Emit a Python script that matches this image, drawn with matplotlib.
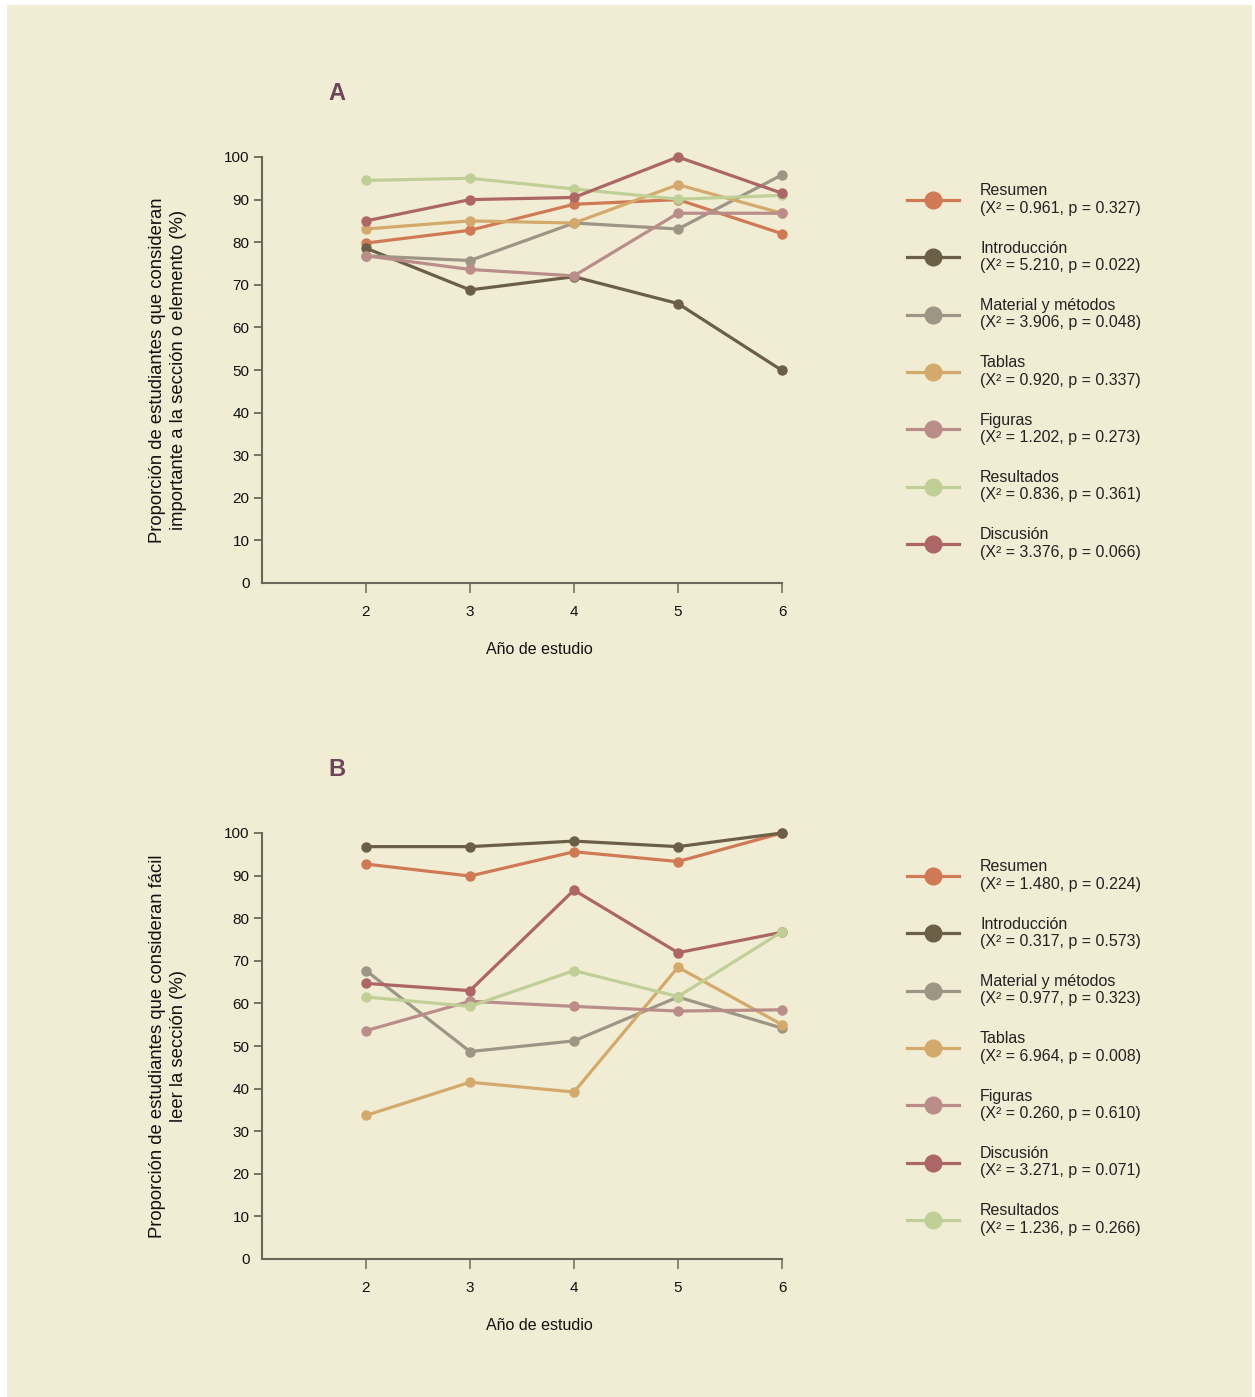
import matplotlib
matplotlib.use("Agg")
import matplotlib.pyplot as plt
from matplotlib.lines import Line2D
from matplotlib.patches import Rectangle

plt.rcParams['font.family'] = ['Liberation Sans', 'DejaVu Sans']

years = [2, 3, 4, 5, 6]

# Panel A: importance
a_resumen = [79.8, 82.8, 88.9, 90.0, 82.0]
a_intro = [78.6, 68.8, 71.9, 65.6, 49.9]
a_material = [76.8, 75.7, 84.5, 83.1, 95.8]
a_tablas = [83.1, 85.0, 84.5, 93.5, 86.8]
a_figuras = [76.8, 73.6, 72.1, 86.8, 86.8]
a_resultados = [94.5, 95.0, 92.5, 90.1, 91.0]
a_discusion = [85.0, 90.0, 90.5, 100.0, 91.5]
a_stats = {
    'Resumen': '(X² = 0.961, p = 0.327)',
    'Introducción': '(X² = 5.210, p = 0.022)',
    'Material y métodos': '(X² = 3.906, p = 0.048)',
    'Tablas': '(X² = 0.920, p = 0.337)',
    'Figuras': '(X² = 1.202, p = 0.273)',
    'Resultados': '(X² = 0.836, p = 0.361)',
    'Discusión': '(X² = 3.376, p = 0.066)',
}
a_order = ['Resumen', 'Introducción', 'Material y métodos', 'Tablas', 'Figuras', 'Resultados', 'Discusión']

# Panel B: ease of reading
b_resumen = [92.7, 89.9, 95.6, 93.3, 100.0]
b_intro = [96.8, 96.8, 98.1, 96.8, 100.0]
b_material = [67.7, 48.7, 51.2, 61.5, 54.2]
b_tablas = [33.7, 41.5, 39.2, 68.5, 55.0]
b_figuras = [53.6, 60.5, 59.3, 58.2, 58.5]
b_discusion = [64.7, 63.0, 86.6, 71.9, 76.7]
b_resultados = [61.5, 59.3, 67.7, 61.6, 76.8]
b_stats = {
    'Resumen': '(X² = 1.480, p = 0.224)',
    'Introducción': '(X² = 0.317, p = 0.573)',
    'Material y métodos': '(X² = 0.977, p = 0.323)',
    'Tablas': '(X² = 6.964, p = 0.008)',
    'Figuras': '(X² = 0.260, p = 0.610)',
    'Discusión': '(X² = 3.271, p = 0.071)',
    'Resultados': '(X² = 1.236, p = 0.266)',
}
b_order = ['Resumen', 'Introducción', 'Material y métodos', 'Tablas', 'Figuras', 'Discusión', 'Resultados']

colors = {
    'Resumen': '#d07a55',
    'Introducción': '#6b5f48',
    'Material y métodos': '#9d9585',
    'Tablas': '#d4aa6c',
    'Figuras': '#ba8d8b',
    'Resultados': '#c0cf96',
    'Discusión': '#ad6666',
}

a_data = {'Resumen': a_resumen, 'Introducción': a_intro, 'Material y métodos': a_material,
          'Tablas': a_tablas, 'Figuras': a_figuras, 'Resultados': a_resultados, 'Discusión': a_discusion}
b_data = {'Resumen': b_resumen, 'Introducción': b_intro, 'Material y métodos': b_material,
          'Tablas': b_tablas, 'Figuras': b_figuras, 'Discusión': b_discusion, 'Resultados': b_resultados}

BG = '#f1edd5'
AX = '#6b6658'
W, H = 1255, 1397
fig = plt.figure(figsize=(W / 100, H / 100), dpi=100, facecolor='white')
fig.patches.append(Rectangle((7 / W, 0), (1252 - 7) / W, (1392) / H, transform=fig.transFigure,
                             facecolor=BG, edgecolor='none', zorder=-10))


def fx(px):
    return px / W


def fy(py):
    return 1 - py / H


def panel(top_px, data, order, stats, title, ylabel):
    bottom_px = top_px + 426
    ax = fig.add_axes([fx(262), fy(bottom_px), fx(782) - fx(262), (426) / H])
    ax.set_facecolor('none')
    for name in order:
        ax.plot(years, data[name], color=colors[name], lw=2.3, marker='o', ms=6.5,
                clip_on=False, zorder=3)
    ax.set_xlim(1, 6)
    ax.set_ylim(0, 100)
    ax.set_xticks(years)
    ax.set_yticks(range(0, 101, 10))
    for s in ['top', 'right']:
        ax.spines[s].set_visible(False)
    for s in ['left', 'bottom']:
        ax.spines[s].set_color(AX)
        ax.spines[s].set_linewidth(1.5)
    ax.tick_params(axis='y', length=6, width=1.3, color=AX, pad=3, labelsize=11, labelcolor='#111111')
    ax.tick_params(axis='x', length=7, width=1.1, color=AX, pad=9, labelsize=11, labelcolor='#111111')
    ax.yaxis.get_major_ticks()[0].tick1line.set_visible(False)

    fig.text(fx(539), fy(bottom_px + 66), 'Año de estudio', ha='center', va='center',
             fontsize=11.5, color='#111111')
    fig.text(fx(168), fy(top_px + 213), ylabel, rotation=90, ha='center', va='center',
             fontsize=13.3, color='#111111', linespacing=1.3)
    fig.text(fx(337), fy(top_px - 64), title, ha='center', va='center', fontsize=17,
             fontweight='bold', color='#6e4558')

    handles = [Line2D([0], [0], color=colors[n], lw=2.3, marker='o', ms=12) for n in order]
    labels = [f'{n}\n{stats[n]}' for n in order]
    fig.legend(handles, labels, loc='upper left',
               bbox_to_anchor=(fx(901), fy(top_px + 20)), frameon=False, fontsize=11.5,
               handlelength=3.2, handletextpad=1.35, labelspacing=1.56, borderaxespad=0,
               labelcolor='#222222')
    return ax


panel(157, a_data, a_order, a_stats, 'A',
      'Proporción de estudiantes que consideran\nimportante a la sección o elemento (%)')
panel(833, b_data, b_order, b_stats, 'B',
      'Proporción de estudiantes que consideran fácil\nleer la sección (%)')

fig.savefig('out.png', dpi=100, facecolor='white')
